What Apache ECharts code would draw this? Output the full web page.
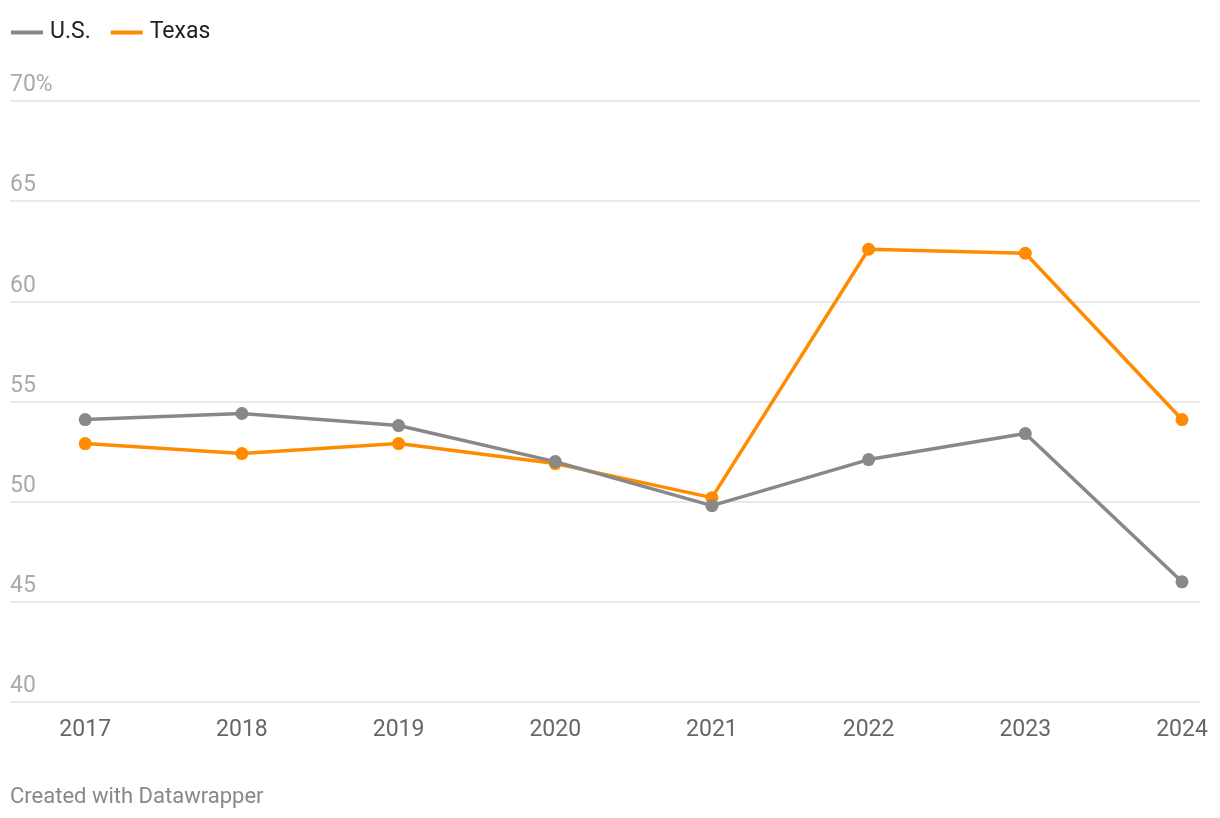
<!DOCTYPE html>
<html>
<head>
<meta charset="utf-8">
<script src="https://cdn.jsdelivr.net/npm/echarts@6/dist/echarts.min.js"></script>
<style>
html,body{margin:0;padding:0;background:#fff;}
#chart{width:1220px;height:818px;}
</style>
</head>
<body>
<div id="chart"></div>
<script>
const years = [2017, 2018, 2019, 2020, 2021, 2022, 2023, 2024];
const usValues = [54.1, 54.4, 53.8, 52.0, 49.8, 52.1, 53.4, 46.0];
const texasValues = [52.9, 52.4, 52.9, 51.9, 50.2, 62.6, 62.4, 54.1];
const yTicks = [40, 45, 50, 55, 60, 65, 70];

const chart = echarts.init(document.getElementById('chart'));
const font = 'Roboto, "Noto Sans", sans-serif';
const pairs = vals => years.map((y, i) => [y, vals[i]]);

chart.setOption({
  animation: false,
  backgroundColor: '#ffffff',
  textStyle: { fontFamily: font },
  legend: {
    left: 6, top: 16,
    itemWidth: 32, itemHeight: 4, itemGap: 20,
    icon: 'rect',
    textStyle: { fontSize: 23, color: '#222', fontFamily: font, padding: [0, 0, 0, 2] },
    data: ['U.S.', 'Texas']
  },
  graphic: [{
    type: 'text', left: 10, top: 786,
    style: { text: 'Created with Datawrapper', fontSize: 22, fill: '#888', fontFamily: font }
  }],
  grid: { left: 10, right: 20, top: 101, bottom: 116, containLabel: false },
  xAxis: {
    type: 'value',
    min: 2016.52, max: 2024.115,
    axisLine: { show: false },
    axisTick: { show: false },
    splitLine: { show: false },
    axisLabel: {
      customValues: years,
      fontSize: 23, color: '#666', margin: 17, fontFamily: font,
      formatter: v => String(v)
    }
  },
  yAxis: {
    type: 'value',
    min: 40, max: 70, interval: 5,
    axisLine: { show: false },
    axisTick: { show: false },
    splitLine: { lineStyle: { color: '#e3e3e3', width: 1.5 } },
    axisLabel: {
      customValues: yTicks,
      inside: true, margin: 0,
      verticalAlign: 'bottom',
      padding: [0, 0, 4, 0],
      fontSize: 23, color: '#aaa', fontFamily: font,
      formatter: v => v === 70 ? '70%' : String(v)
    }
  },
  series: [
    {
      name: 'U.S.', type: 'line', z: 3,
      data: pairs(usValues),
      color: '#888888',
      lineStyle: { width: 3.5, color: '#888888' },
      itemStyle: { color: '#888888' },
      symbol: 'circle', symbolSize: 13, showAllSymbol: true
    },
    {
      name: 'Texas', type: 'line', z: 2,
      data: pairs(texasValues),
      color: '#ff8c00',
      lineStyle: { width: 3.5, color: '#ff8c00' },
      itemStyle: { color: '#ff8c00' },
      symbol: 'circle', symbolSize: 13, showAllSymbol: true
    }
  ]
});
</script>
</body>
</html>
